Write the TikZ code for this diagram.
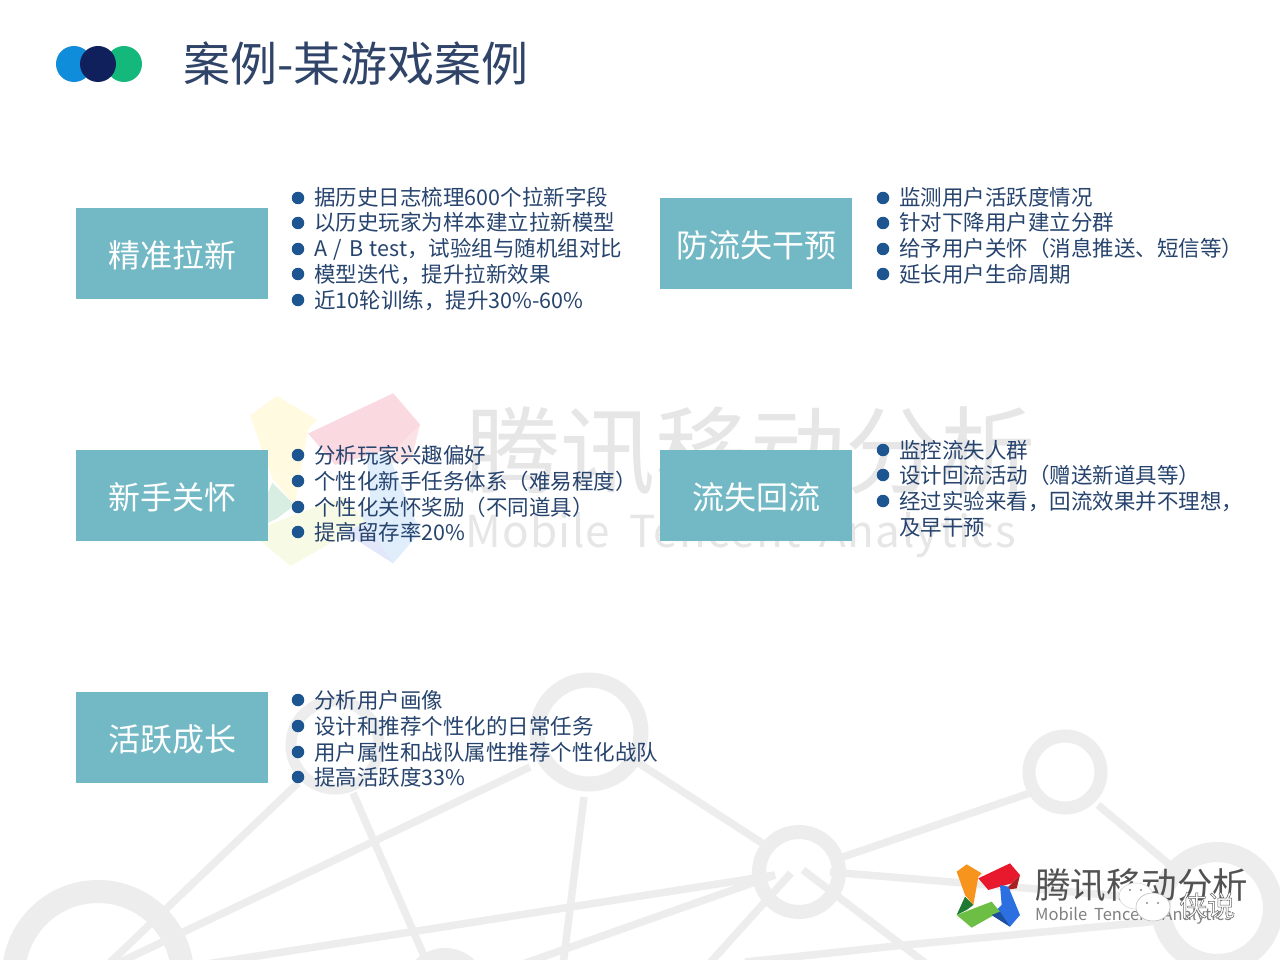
\documentclass[tikz,border=0pt]{standalone}
\usepackage{fontspec}
\setmainfont{Noto Sans CJK SC}
\definecolor{boxc}{HTML}{73B9C5}
\definecolor{bulc}{HTML}{1C5590}
\definecolor{txtc}{HTML}{27446E}
\definecolor{titc}{HTML}{2F4468}
\definecolor{netc}{HTML}{EDEDEE}
\definecolor{wmc}{HTML}{E6E6E7}
\definecolor{dotblue}{HTML}{0F8CDA}
\definecolor{dotnavy}{HTML}{10205C}
\definecolor{dotgreen}{HTML}{14B87A}
\tikzset{
  x=1pt,y=-1pt,
  netline/.style={netc,line width=7.5pt},
  netring/.style={netc},
  catbox/.style={fill=boxc,draw=none,minimum width=192pt,minimum height=91pt,inner sep=0,text=white,font=\fontsize{32}{32}\selectfont},
  item/.style={anchor=base west,inner sep=0,text=txtc,font=\fontsize{21.5}{24}\selectfont},
  dot/.style={fill=bulc,draw=none,circle,minimum size=12.5pt,inner sep=0},
  headdot/.style={circle,minimum size=36pt,inner sep=0,draw=none},
}
\newcommand{\bitem}[4]{% name, bullet x, y, text
  \node[dot] (d#1) at (#2,#3) {};
  \node[item] (t#1) at ({#2+16},{#3+8}) {#4};
}
\newcommand{\cattext}[1]{\raisebox{-1.5pt}[\height][\depth]{#1}}
\newcommand{\logoshape}[7]{%
  \fill[#1] (80,95)--(110,73)--(155,100)--(145,110)--(130,195)--(105,165)--cycle;
  \fill[#2] (145,115)--(240,70)--(270,105)--(245,130)--(175,150)--cycle;
  \fill[#3] (270,105)--(260,145)--(225,150)--(245,130)--cycle;
  \fill[#4] (210,135)--(235,140)--(270,225)--(240,260)--(185,225)--(215,195)--cycle;
  \fill[#5] (80,225)--(105,170)--(130,195)--(110,210)--cycle;
  \fill[#6] (80,225)--(185,185)--(210,215)--(125,263)--cycle;
  \fill[#7] (185,225)--(210,215)--(240,260)--cycle;
}
\definecolor{lo}{HTML}{F7941D}\definecolor{lr}{HTML}{E8192C}\definecolor{ldr}{HTML}{A8201F}
\definecolor{lb}{HTML}{2C6FE0}\definecolor{lg}{HTML}{6DBE45}\definecolor{ldg}{HTML}{1E7A33}\definecolor{ldb}{HTML}{1C4FA0}
\definecolor{po}{HTML}{FFFAE0}\definecolor{pr}{HTML}{FBD9E0}\definecolor{pdr}{HTML}{FBE2E4}
\definecolor{pb}{HTML}{E0EEFC}\definecolor{pg}{HTML}{F7FBE6}\definecolor{pdg}{HTML}{D9EEE2}\definecolor{pdb}{HTML}{E2E7F9}
\begin{document}
\begin{tikzpicture}
\useasboundingbox (0,0) rectangle (1280,960);
\fill[white] (0,0) rectangle (1280,960);
% background network
\begin{scope}
\clip (0,0) rectangle (1280,960);
\draw[netring,line width=15pt] (589,732) circle (52);
\draw[netring,line width=14pt] (799,872) circle (40);
\draw[netring,line width=13pt] (1065,772) circle (36);
\draw[netring,line width=20pt] (1217,908) circle (56);
\draw[netring,line width=23pt] (98,976) circle (84.5);
\draw[netring,line width=11pt] (335,745) circle (44);
\draw[netring,line width=12pt] (445,990) circle (36);
\draw[netline] (298,783)--(100,972);
\draw[netline] (353,793)--(428,965);
\draw[netline] (530,767)--(112,966);
\draw[netline] (584,797)--(563,965);
\draw[netline] (637,762)--(762,843);
\draw[netline] (840,858)--(1030,793);
\draw[netline] (1098,805)--(1170,865);
\draw[netline] (200,965)--(775,875);
\draw[netline] (520,965)--(775,875);
\draw[netline] (830,872)--(1170,900);
\draw[netline] (708,965)--(791,873);
\draw[netline] (803,870)--(928,965);
\draw[netline] (745,962)--(905,945)--(1170,920);
\end{scope}
% central watermark
\begin{scope}[shift={(178.4,330.6)},x=.895pt,y=-.895pt]
\logoshape{po}{pr}{pdr}{pb}{pdg}{pg}{pdb}
\end{scope}
\node[anchor=base west,inner sep=0,text=wmc,font=\fontsize{95}{95}\selectfont] (wmcn) at (465,486) {腾讯移动分析};
\node[anchor=base west,inner sep=0,text=wmc,font=\fontsize{44}{44}\selectfont\addfontfeature{LetterSpace=3}] (wmen) at (465,547) {Mobile\hspace{19pt}Tencent\hspace{19pt}Analytics};
% header
\node[headdot,fill=dotblue] (c1) at (74,64) {};
\node[headdot,fill=dotgreen] (c3) at (124,64) {};
\node[headdot,fill=dotnavy] (c2) at (98,64) {};
\node[anchor=base west,inner sep=0,text=titc,font=\fontsize{47}{47}\selectfont] (title) at (183,82) {案例-某游戏案例};
% boxes
\node[catbox,anchor=north west] (b1) at (76,208) {\cattext{精准拉新}};
\node[catbox,anchor=north west] (b2) at (660,198) {\cattext{防流失干预}};
\node[catbox,anchor=north west] (b3) at (76,450) {\cattext{新手关怀}};
\node[catbox,anchor=north west] (b4) at (660,450) {\cattext{流失回流}};
\node[catbox,anchor=north west] (b5) at (76,692) {\cattext{活跃成长}};
% lists
\bitem{a1}{298}{198}{据历史日志梳理600个拉新字段}
\bitem{a2}{298}{223}{以历史玩家为样本建立拉新模型}
\bitem{a3}{298}{249}{{\spaceskip=6.7pt A / B test}，试验组与随机组对比}
\bitem{a4}{298}{274}{模型迭代，提升拉新效果}
\bitem{a5}{298}{300}{近10轮训练，提升30\%-60\%}
\bitem{b1}{883}{198}{监测用户活跃度情况}
\bitem{b2}{883}{223}{针对下降用户建立分群}
\bitem{b3}{883}{249}{给予用户关怀（消息推送、短信等）}
\bitem{b4}{883}{274}{延长用户生命周期}
\bitem{c1}{298}{455}{分析玩家兴趣偏好}
\bitem{c2}{298}{481}{个性化新手任务体系（难易程度）}
\bitem{c3}{298}{507}{个性化关怀奖励（不同道具）}
\bitem{c4}{298}{532}{提高留存率20\%}
\bitem{d1}{883}{450}{监控流失人群}
\bitem{d2}{883}{475}{设计回流活动（赠送新道具等）}
\bitem{d3}{883}{501}{经过实验来看，回流效果并不理想，}
\node[item] (td4) at (899,535) {及早干预};
\bitem{e1}{298}{700}{分析用户画像}
\bitem{e2}{298}{726}{设计和推荐个性化的日常任务}
\bitem{e3}{298}{752}{用户属性和战队属性推荐个性化战队}
\bitem{e4}{298}{777}{提高活跃度33\%}
% corner logo
\begin{scope}[shift={(930,840)},x=.3333pt,y=-.3333pt]
\logoshape{lo}{lr}{ldr}{lb}{ldg}{lg}{ldb}
\end{scope}
\node[anchor=base west,inner sep=0,text=black!68,font=\fontsize{35.5}{36}\selectfont] (lgc) at (1035,898) {腾讯移动分析};
\node[anchor=base west,inner sep=0,text=black!50,font=\fontsize{16.5}{16}\selectfont] (lge) at (1035,920) {Mobile\hspace{7pt}Tencent\hspace{7pt}Analytics};
% wechat mark
\fill[white,draw=black!15,line width=.6pt] (1136,896) ellipse (17 and 13);
\fill[white,draw=black!25,line width=.6pt] (1153,907) ellipse (17 and 14);
\foreach \ex/\ey in {1130/890,1141/890,1147/903,1158/903}
  \fill[black!45] (\ex,\ey) circle (1.2);
\node[anchor=base west,inner sep=0,text=white,font=\fontsize{28}{28}\selectfont] (wx) at (1179,916)
  {\special{pdf:code q 1 1 1 rg 0.4 0.4 0.4 RG 0.5 w 2 Tr}侠说\special{pdf:code Q}};
\end{tikzpicture}
\end{document}
